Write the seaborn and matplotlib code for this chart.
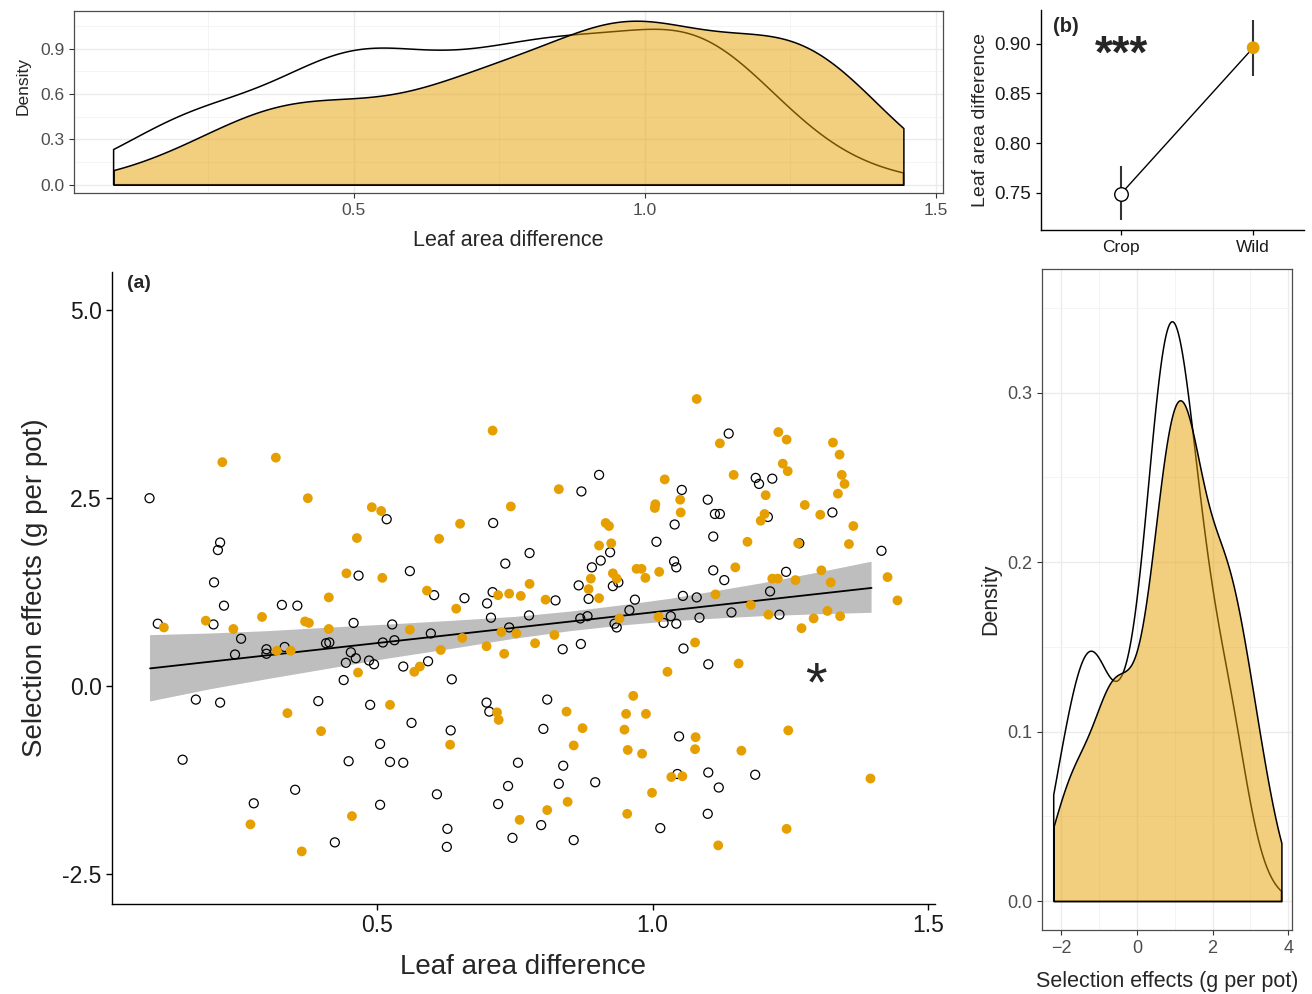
import numpy as np
import pandas as pd
import matplotlib
matplotlib.use('Agg')
import matplotlib.pyplot as plt
from matplotlib.ticker import MultipleLocator, FuncFormatter, FixedLocator
import seaborn as sns

# panel (a): leaf area difference vs selection effects
crop_x = [0.088, 0.518, 0.216, 0.212, 0.205, 0.467, 0.223, 0.328, 0.356, 0.903,
          0.871, 0.711, 0.923, 0.906, 0.890, 1.007, 0.777, 0.733, 0.560, 0.866,
          0.938, 0.928, 0.884, 0.968, 0.604, 0.659, 0.710, 0.824, 0.700, 0.958,
          0.707, 0.776, 0.882, 0.869, 1.138, 1.187, 1.193, 1.217, 1.053, 1.100,
          1.113, 1.122, 1.040, 1.209, 1.326, 1.110, 1.266, 1.415, 1.039, 1.043,
          1.110, 1.130, 1.242, 1.055, 1.080, 1.213, 1.143, 1.085, 1.230, 1.033,
          1.043, 1.056, 1.101, 1.048, 1.045, 1.101, 1.120, 1.186, 1.100, 0.528,
          0.532, 0.511, 0.598, 0.740, 0.837, 0.870, 0.931, 0.935, 1.020, 0.548,
          0.593, 0.636, 0.699, 0.704, 0.809, 0.563, 0.634, 0.802, 0.524, 0.548,
          0.756, 0.838, 0.830, 0.896, 0.738, 0.609, 0.720, 1.014, 0.798, 0.628,
          0.627, 0.746, 0.857, 0.103, 0.204, 0.254, 0.243, 0.300, 0.300, 0.333,
          0.458, 0.408, 0.414, 0.453, 0.462, 0.444, 0.486, 0.495, 0.440, 0.172,
          0.216, 0.394, 0.488, 0.148, 0.506, 0.449, 0.352, 0.277, 0.506, 0.424]
crop_y = [2.50, 2.22, 1.91, 1.81, 1.38, 1.47, 1.07, 1.08, 1.07, 2.81,
          2.59, 2.17, 1.78, 1.67, 1.58, 1.92, 1.77, 1.63, 1.53, 1.34,
          1.38, 1.33, 1.16, 1.15, 1.21, 1.17, 1.25, 1.14, 1.10, 1.01,
          0.91, 0.94, 0.93, 0.90, 3.36, 2.77, 2.69, 2.76, 2.61, 2.48,
          2.29, 2.29, 2.15, 2.25, 2.31, 1.99, 1.90, 1.80, 1.66, 1.58,
          1.54, 1.41, 1.52, 1.20, 1.18, 1.26, 0.98, 0.91, 0.95, 0.93,
          0.83, 0.50, 0.29, -0.67, -1.17, -1.15, -1.35, -1.18, -1.70, 0.82,
          0.61, 0.58, 0.70, 0.78, 0.49, 0.56, 0.83, 0.78, 0.84, 0.26,
          0.33, 0.09, -0.22, -0.34, -0.18, -0.49, -0.59, -0.57, -1.01, -1.02,
          -1.02, -1.06, -1.30, -1.28, -1.33, -1.44, -1.57, -1.89, -1.85, -1.90,
          -2.14, -2.02, -2.05, 0.83, 0.82, 0.63, 0.42, 0.49, 0.43, 0.52,
          0.84, 0.57, 0.58, 0.45, 0.37, 0.31, 0.34, 0.29, 0.08, -0.18,
          -0.22, -0.20, -0.25, -0.98, -0.77, -1.00, -1.38, -1.56, -1.58, -2.08]

wild_x = [0.220, 0.317, 0.375, 0.491, 0.508, 0.464, 0.445, 0.510, 0.413, 0.710,
          0.830, 1.022, 0.743, 0.651, 0.613, 1.005, 1.004, 0.915, 0.921, 0.903,
          0.925, 0.888, 0.884, 0.928, 0.935, 0.971, 0.980, 0.987, 1.012, 0.903,
          0.591, 0.720, 0.740, 0.761, 0.777, 0.806, 0.644, 0.940, 1.011, 1.080,
          1.122, 1.228, 1.243, 1.327, 1.339, 1.236, 1.245, 1.147, 1.343, 1.348,
          1.336, 1.205, 1.050, 1.051, 1.203, 1.196, 1.276, 1.304, 1.364, 1.356,
          1.172, 1.264, 1.150, 1.217, 1.227, 1.259, 1.306, 1.323, 1.426, 1.444,
          1.114, 1.178, 1.210, 1.317, 1.340, 1.292, 1.270, 1.077, 1.156, 1.027,
          1.246, 1.078, 1.077, 1.161, 1.034, 1.054, 1.395, 1.243, 1.119, 0.560,
          0.655, 0.616, 0.726, 0.753, 0.699, 0.731, 0.787, 0.822, 0.568, 0.578,
          0.524, 0.718, 0.721, 0.844, 0.873, 0.857, 0.965, 0.952, 0.988, 0.949,
          0.955, 0.981, 0.633, 0.999, 0.954, 0.846, 0.809, 0.759, 0.114, 0.190,
          0.240, 0.319, 0.344, 0.292, 0.370, 0.377, 0.413, 0.466, 0.338, 0.399,
          0.271, 0.455, 0.364]
wild_y = [2.98, 3.04, 2.50, 2.38, 2.33, 1.97, 1.50, 1.44, 1.18, 3.40,
          2.62, 2.75, 2.39, 2.16, 1.96, 2.42, 2.37, 2.17, 2.13, 1.87,
          1.90, 1.43, 1.29, 1.50, 1.43, 1.56, 1.56, 1.44, 1.52, 1.17,
          1.27, 1.21, 1.23, 1.20, 1.36, 1.15, 1.03, 0.90, 0.92, 3.82,
          3.23, 3.38, 3.28, 3.24, 3.08, 2.96, 2.86, 2.81, 2.81, 2.69,
          2.56, 2.54, 2.48, 2.31, 2.29, 2.20, 2.41, 2.28, 2.13, 1.89,
          1.92, 1.90, 1.58, 1.43, 1.43, 1.41, 1.54, 1.38, 1.45, 1.14,
          1.22, 1.08, 0.95, 1.00, 0.93, 0.90, 0.77, 0.58, 0.30, 0.19,
          -0.59, -0.68, -0.84, -0.86, -1.21, -1.20, -1.23, -1.90, -2.12, 0.75,
          0.64, 0.48, 0.72, 0.70, 0.53, 0.43, 0.57, 0.68, 0.19, 0.26,
          -0.25, -0.35, -0.45, -0.34, -0.56, -0.79, -0.13, -0.37, -0.37, -0.58,
          -0.85, -0.90, -0.78, -1.42, -1.70, -1.54, -1.65, -1.78, 0.78, 0.87,
          0.76, 0.47, 0.47, 0.92, 0.86, 0.84, 0.76, 0.18, -0.36, -0.60,
          -1.84, -1.73, -2.20]

# fitted line and its confidence band in panel (a)
fit_x = [0.089, 1.397]
fit_y = [0.235, 1.306]
band_x = [0.089, 0.20, 0.30, 0.42, 0.524, 0.64, 0.75, 0.85, 0.95, 1.031, 1.12, 1.20, 1.30, 1.397]
band_lo = [-0.205, -0.04, 0.09, 0.24, 0.37, 0.50, 0.63, 0.73, 0.81, 0.86, 0.90, 0.93, 0.955, 0.975]
band_hi = [0.677, 0.70, 0.73, 0.78, 0.82, 0.87, 0.92, 0.99, 1.08, 1.16, 1.27, 1.37, 1.51, 1.655]

# panel (b): mean leaf area difference with error bars
groups = ['Crop', 'Wild']
group_mean = [0.749, 0.896]
group_lo = [0.7225, 0.8677]
group_hi = [0.7770, 0.9235]

ORANGE = '#E69F00'
W, H = 1312, 994


def box(l, t, r, b):
    return [l / W, (H - b) / H, (r - l) / W, (b - t) / H]


def nrd0_adjust(v):
    # bw_adjust that turns scott's rule into R's bw.nrd0
    v = np.asarray(v, dtype=float)
    sd = v.std(ddof=1)
    iqr = np.subtract(*np.percentile(v, [75, 25]))
    return 0.9 * min(sd, iqr / 1.34) / sd


def style_bw(ax, tick_size):
    for s in ax.spines.values():
        s.set_visible(True)
        s.set_color('#4D4D4D')
        s.set_linewidth(0.9)
    ax.set_axisbelow(True)
    ax.grid(which='major', color='#EBEBEB', lw=1.0)
    ax.grid(which='minor', color='#F2F2F2', lw=0.6)
    ax.tick_params(which='major', length=3.5, width=0.8, color='#333333',
                   labelcolor='#4D4D4D', labelsize=tick_size)
    ax.tick_params(which='minor', length=0)


def density_pair(ax, df, col, lims):
    for grp in groups:
        vals = df.loc[df.group == grp, col]
        kws = dict(fill=True, cut=5, clip=lims, gridsize=512,
                   bw_adjust=nrd0_adjust(vals), edgecolor='black', linewidth=1.1)
        if grp == 'Crop':
            kws['facecolor'] = 'none'
            kws['color'] = 'black'
        else:
            kws['color'] = ORANGE
            kws['alpha'] = 0.5
        sns.kdeplot(x=vals, ax=ax, **kws)


df = pd.DataFrame({
    'leaf': crop_x + wild_x,
    'sel': crop_y + wild_y,
    'group': ['Crop'] * len(crop_x) + ['Wild'] * len(wild_x),
})

sns.set_theme(style='ticks')
plt.rcParams['font.family'] = ['Liberation Sans', 'DejaVu Sans']

fig = plt.figure(figsize=(W / 100, H / 100), dpi=100)
ax_main = fig.add_axes(box(112, 272, 935, 904))
ax_top = fig.add_axes(box(74, 11, 943, 193))
ax_b = fig.add_axes(box(1041, 10, 1304, 230))
ax_r = fig.add_axes(box(1042, 269, 1292, 930))

# ---- panel (a) ----
ax_main.fill_between(band_x, band_lo, band_hi, facecolor='#BEBEBE', edgecolor='none', zorder=1)
sns.lineplot(x=fit_x, y=fit_y, ax=ax_main, color='black', lw=1.3, zorder=2)

sns.scatterplot(x=crop_x, y=crop_y, ax=ax_main, facecolor='none', edgecolor='black',
                s=42, linewidth=0.9, zorder=3)
sns.scatterplot(x=wild_x, y=wild_y, ax=ax_main, color=ORANGE, edgecolor='none',
                s=50, zorder=4)

ax_main.set_xlim(0.020, 1.512)
ax_main.set_ylim(-2.90, 5.51)
ax_main.xaxis.set_major_locator(FixedLocator([0.5, 1.0, 1.5]))
ax_main.yaxis.set_major_locator(FixedLocator([-2.5, 0.0, 2.5, 5.0]))
ax_main.xaxis.set_major_formatter(FuncFormatter(lambda v, p: f'{v:.1f}'))
ax_main.yaxis.set_major_formatter(FuncFormatter(lambda v, p: f'{v:.1f}'))
sns.despine(ax=ax_main)
for s in ['left', 'bottom']:
    ax_main.spines[s].set_color('black')
    ax_main.spines[s].set_linewidth(1.0)
ax_main.tick_params(length=4, width=1.0, color='black', labelsize=16.5,
                    labelcolor='#1a1a1a')
ax_main.set_xlabel('Leaf area difference', fontsize=20, labelpad=12)
ax_main.set_ylabel('Selection effects (g per pot)', fontsize=20, labelpad=10)
ax_main.text(0.069, 5.355, '(a)', fontsize=14, fontweight='bold', ha='center', va='center')
ax_main.text(1.297, 0.0, '*', fontsize=40, ha='center', va='center')

# ---- top density of leaf area difference ----
lx = (min(df.leaf), max(df.leaf))
density_pair(ax_top, df, 'leaf', lx)
ax_top.set_xlim(0.020, 1.512)
ax_top.set_ylim(-0.055, 1.15)
ax_top.xaxis.set_major_locator(MultipleLocator(0.5))
ax_top.xaxis.set_minor_locator(MultipleLocator(0.25))
ax_top.yaxis.set_major_locator(FixedLocator([0.0, 0.3, 0.6, 0.9]))
ax_top.yaxis.set_minor_locator(FixedLocator([0.15, 0.45, 0.75, 1.05]))
ax_top.xaxis.set_major_formatter(FuncFormatter(lambda v, p: f'{v:.1f}'))
ax_top.yaxis.set_major_formatter(FuncFormatter(lambda v, p: f'{v:.1f}'))
style_bw(ax_top, 12.5)
ax_top.set_xlabel('Leaf area difference', fontsize=15.5, labelpad=9)
ax_top.set_ylabel('Density', fontsize=12.5, labelpad=6)
ax_top.yaxis.set_label_coords(-0.05, 0.59)

# ---- right density of selection effects ----
sx = (min(df.sel), max(df.sel))
density_pair(ax_r, df, 'sel', sx)
ax_r.set_xlim(-2.51, 4.10)
ax_r.set_ylim(-0.017, 0.373)
ax_r.xaxis.set_major_locator(FixedLocator([-2, 0, 2, 4]))
ax_r.xaxis.set_minor_locator(FixedLocator([-1, 1, 3]))
ax_r.yaxis.set_major_locator(MultipleLocator(0.1))
ax_r.yaxis.set_minor_locator(FixedLocator([0.05, 0.15, 0.25, 0.35]))
ax_r.xaxis.set_major_formatter(FuncFormatter(lambda v, p: f'{v:.0f}'.replace('-', '\u2212')))
ax_r.yaxis.set_major_formatter(FuncFormatter(lambda v, p: f'{v:.1f}'))
style_bw(ax_r, 13)
ax_r.set_xlabel('Selection effects (g per pot)', fontsize=15.5, labelpad=10)
ax_r.set_ylabel('Density', fontsize=15.5, labelpad=4)

# ---- panel (b) ----
xpos = list(range(len(groups)))
sns.lineplot(x=xpos, y=group_mean, ax=ax_b, color='black', lw=1.0, zorder=2)
ax_b.vlines(xpos, group_lo, group_hi, color='#333333', lw=1.5, zorder=1)
sns.scatterplot(x=xpos[:1], y=group_mean[:1], ax=ax_b, facecolor='white',
                edgecolor='black', linewidth=1.0, s=95, zorder=3)
sns.scatterplot(x=xpos[1:], y=group_mean[1:], ax=ax_b, color=ORANGE,
                edgecolor='none', s=85, zorder=3)
ax_b.set_xlim(-0.606, 1.385)
ax_b.set_ylim(0.7125, 0.934)
ax_b.set_xticks(xpos)
ax_b.set_xticklabels(groups)
ax_b.yaxis.set_major_locator(FixedLocator([0.75, 0.80, 0.85, 0.90]))
ax_b.yaxis.set_major_formatter(FuncFormatter(lambda v, p: f'{v:.2f}'))
sns.despine(ax=ax_b)
for s in ['left', 'bottom']:
    ax_b.spines[s].set_color('black')
    ax_b.spines[s].set_linewidth(1.0)
ax_b.tick_params(axis='y', length=3.5, width=0.9, color='black', labelsize=13.5,
                 labelcolor='#1a1a1a')
ax_b.tick_params(axis='x', length=3.5, width=0.9, color='black', labelsize=12.5,
                 labelcolor='#1a1a1a')
ax_b.set_ylabel('Leaf area difference', fontsize=14, labelpad=4)
ax_b.set_xlabel('')
ax_b.text(-0.42, 0.917, '(b)', fontsize=14.5, fontweight='bold', ha='center', va='center')
ax_b.text(0.0, 0.888, '***', fontsize=33, fontweight='bold', ha='center', va='center')

fig.savefig('out.png', dpi=100)
plt.close(fig)
